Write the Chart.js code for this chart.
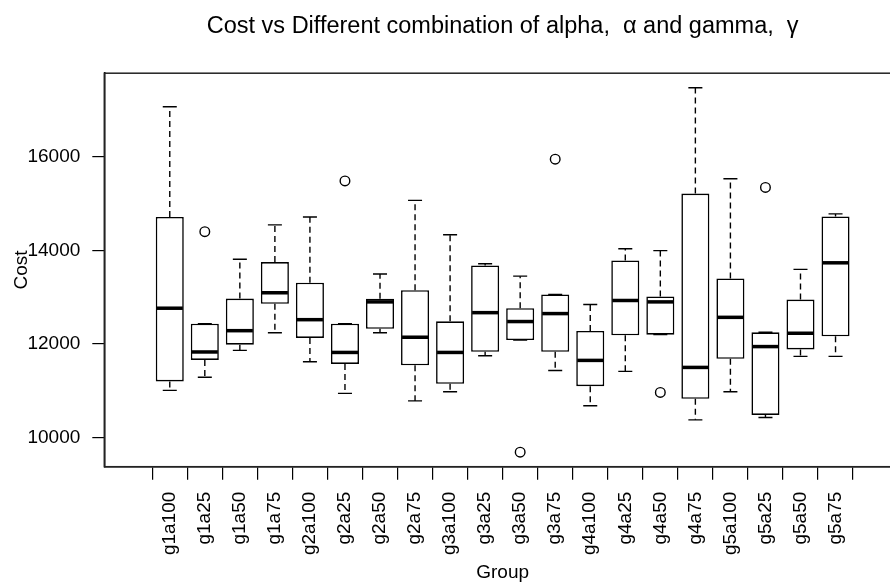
<!DOCTYPE html>
<html>
<head>
<meta charset="utf-8">
<title>Cost vs Different combination of alpha and gamma</title>
<script src="https://cdn.jsdelivr.net/npm/chart.js@4.4.1/dist/chart.umd.min.js"></script>
<style>
  html, body { margin: 0; padding: 0; background: #fff; overflow: hidden; }
  canvas { display: block; }
</style>
</head>
<body>
<canvas id="costChart" width="920" height="584"></canvas>
<script>
// groups on the x axis
const groups = ['g1a100', 'g1a25', 'g1a50', 'g1a75', 'g2a100', 'g2a25', 'g2a50', 'g2a75',
  'g3a100', 'g3a25', 'g3a50', 'g3a75', 'g4a100', 'g4a25', 'g4a50', 'g4a75',
  'g5a100', 'g5a25', 'g5a50', 'g5a75'];

// five number summaries
const whiskerLow  = [11010, 11290, 11865, 12240, 11620, 10945, 12240, 10785, 10980, 11750,
  12085, 11435, 10680, 11415, 12200, 10380, 10980, 10430, 11735, 11735];
const q1          = [11200, 11660, 11985, 12860, 12130, 11575, 12325, 11545, 11150, 11835,
  12085, 11835, 11100, 12185, 12200, 10830, 11685, 10485, 11885, 12165];
const median      = [12765, 11830, 12285, 13095, 12520, 11820, 12900, 12145, 11820, 12670,
  12480, 12650, 11650, 12930, 12900, 11500, 12570, 11945, 12230, 13735];
const q3          = [14715, 12435, 12970, 13750, 13310, 12435, 12965, 13150, 12485, 13680,
  12765, 13060, 12280, 13785, 13015, 15215, 13400, 12250, 12950, 14725];
const whiskerHigh = [17070, 12435, 13810, 14545, 14715, 12435, 13495, 15070, 14335, 13715,
  13450, 13060, 12845, 14035, 13995, 17475, 15530, 12250, 13595, 14780];

// outliers
const outlierGroups = ['g1a25', 'g2a25', 'g3a50', 'g3a75', 'g4a50', 'g5a25'];
const outlierValues = [14400, 15485, 9690, 15950, 10965, 15345];

const yTickValues = [10000, 12000, 14000, 16000];

// axis limits like R: data range stretched by 4%
const allValues = whiskerLow.concat(whiskerHigh, outlierValues);
const dataMin = Math.min(...allValues);
const dataMax = Math.max(...allValues);
const yPad = (dataMax - dataMin) * 0.04;
const xPad = groups.length * 0.04;

Chart.defaults.font.family = '"Liberation Sans", Arial, Helvetica, sans-serif';
Chart.defaults.color = '#000';

// whiskers, staples, medians and the frame, drawn with the chart scales
const boxPlotExtras = {
  id: 'boxPlotExtras',
  beforeDatasetsDraw(chart) {
    const { ctx, scales: { x, y } } = chart;
    const half = x.getPixelForValue(1.2) - x.getPixelForValue(1);
    ctx.save();
    ctx.strokeStyle = '#000';
    ctx.lineWidth = 1.4;
    groups.forEach((g, i) => {
      const px = x.getPixelForValue(i + 1);
      // dashed whiskers
      ctx.setLineDash([6, 4]);
      ctx.beginPath();
      ctx.moveTo(px, y.getPixelForValue(q3[i]));
      ctx.lineTo(px, y.getPixelForValue(whiskerHigh[i]));
      ctx.moveTo(px, y.getPixelForValue(q1[i]));
      ctx.lineTo(px, y.getPixelForValue(whiskerLow[i]));
      ctx.stroke();
      // staples
      ctx.setLineDash([]);
      ctx.beginPath();
      ctx.moveTo(px - half, y.getPixelForValue(whiskerHigh[i]));
      ctx.lineTo(px + half, y.getPixelForValue(whiskerHigh[i]));
      ctx.moveTo(px - half, y.getPixelForValue(whiskerLow[i]));
      ctx.lineTo(px + half, y.getPixelForValue(whiskerLow[i]));
      ctx.stroke();
    });
    ctx.restore();
  },
  afterDatasetsDraw(chart) {
    const { ctx, scales: { x, y } } = chart;
    const half = x.getPixelForValue(1.4) - x.getPixelForValue(1);
    ctx.save();
    ctx.strokeStyle = '#000';
    ctx.lineWidth = 3.5;
    groups.forEach((g, i) => {
      const px = x.getPixelForValue(i + 1);
      const py = y.getPixelForValue(median[i]);
      ctx.beginPath();
      ctx.moveTo(px - half + 1, py);
      ctx.lineTo(px + half - 1, py);
      ctx.stroke();
    });
    ctx.restore();
  },
  afterDraw(chart) {
    const { ctx, chartArea } = chart;
    ctx.save();
    ctx.strokeStyle = '#222';
    ctx.lineWidth = 1.5;
    ctx.strokeRect(chartArea.left, chartArea.top, chartArea.right - chartArea.left, chartArea.bottom - chartArea.top);
    ctx.restore();
  }
};

new Chart(document.getElementById('costChart'), {
  data: {
    datasets: [
      {
        type: 'bar',
        label: 'Box',
        data: groups.map((g, i) => ({ x: i + 1, y: [q1[i], q3[i]] })),
        backgroundColor: '#fff',
        borderColor: '#000',
        borderWidth: 1.6,
        borderSkipped: false,
        barPercentage: 0.8,
        categoryPercentage: 1
      },
      {
        type: 'scatter',
        label: 'Outliers',
        data: outlierGroups.map((g, i) => ({ x: groups.indexOf(g) + 1, y: outlierValues[i] })),
        pointStyle: 'circle',
        pointRadius: 4.8,
        borderColor: '#000',
        borderWidth: 1.4,
        backgroundColor: 'rgba(0,0,0,0)'
      }
    ]
  },
  options: {
    responsive: false,
    animation: false,
    layout: { padding: { left: 0, right: 19, top: 0, bottom: 0 } },
    plugins: {
      legend: { display: false },
      tooltip: { enabled: false },
      title: {
        display: true,
        fullSize: false,
        text: 'Cost vs Different combination of alpha,  α and gamma,  γ',
        color: '#000',
        font: { size: 23.5, weight: 'normal', lineHeight: 1.2 },
        padding: { top: 12, bottom: 33 }
      }
    },
    scales: {
      x: {
        type: 'linear',
        min: 0.5 - xPad,
        max: groups.length + 0.5 + xPad,
        afterBuildTicks(scale) {
          scale.ticks = groups.map((g, i) => ({ value: i + 1 }));
        },
        afterFit(scale) {
          scale.height = 117.3;
        },
        ticks: {
          autoSkip: false,
          maxRotation: 90,
          minRotation: 90,
          padding: 12,
          color: '#000',
          font: { size: 19 },
          callback: (value) => groups[value - 1]
        },
        grid: { drawOnChartArea: false, drawTicks: true, tickLength: 13, color: '#000', lineWidth: 1.2 },
        border: { display: true, color: '#000', width: 1.5 },
        title: { display: true, text: 'Group', color: '#000', font: { size: 19 }, padding: { top: 0, bottom: 0 } }
      },
      y: {
        min: dataMin - yPad,
        max: dataMax + yPad,
        afterBuildTicks(scale) {
          scale.ticks = yTickValues.map(v => ({ value: v }));
        },
        afterFit(scale) {
          scale.width = 104.3;
        },
        ticks: {
          padding: 12,
          color: '#000',
          font: { size: 19 },
          callback: (value) => String(value)
        },
        grid: { drawOnChartArea: false, drawTicks: true, tickLength: 12, color: '#000', lineWidth: 1.2 },
        border: { display: true, color: '#000', width: 1.5 },
        title: { display: true, text: 'Cost', color: '#000', font: { size: 19 }, padding: { top: 10, bottom: 0 } }
      }
    }
  },
  plugins: [boxPlotExtras]
});
</script>
</body>
</html>
